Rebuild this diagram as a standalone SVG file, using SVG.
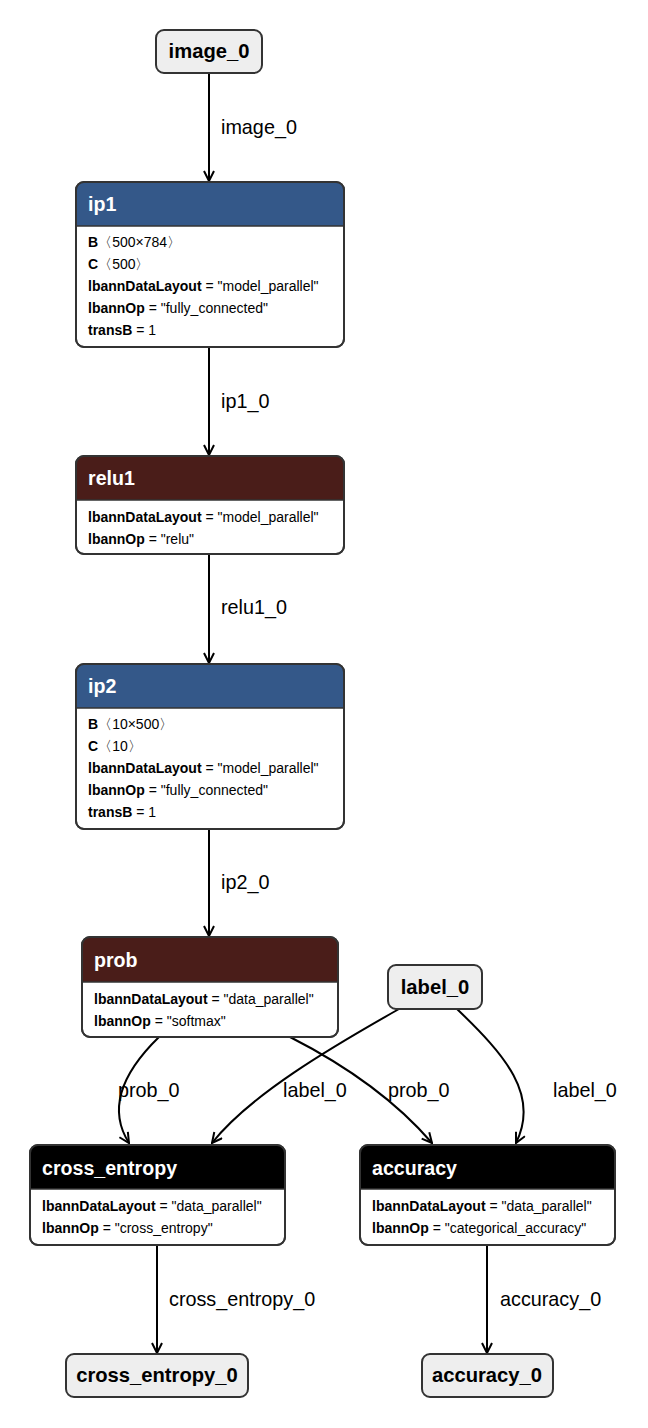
<svg xmlns="http://www.w3.org/2000/svg" width="648" height="1428" viewBox="0 0 648 1428">
<defs>
<style>
.box{fill:#ffffff;stroke:#333333;stroke-width:2}
.term{fill:#eeeeee;stroke:#333333;stroke-width:2}
.ttl{font-family:"Liberation Sans",Arial,sans-serif;font-size:19.6px;font-weight:bold;fill:#ffffff}
.tt{font-family:"Liberation Sans",Arial,sans-serif;font-size:20.2px;font-weight:bold;fill:#000000}
.attr{font-family:"Liberation Sans",Arial,sans-serif;font-size:14px;fill:#000000}
.attr tspan.k{font-weight:bold}
.el{font-family:"Liberation Sans",Arial,sans-serif;font-size:19.8px;fill:#000000}
.edge{fill:none;stroke:#000000;stroke-width:2}
.sep{stroke:#333333;stroke-width:1.5}
</style>
<marker id="arr" viewBox="0 0 12 12" refX="11" refY="6" markerWidth="12" markerHeight="12" markerUnits="userSpaceOnUse" orient="auto">
<path d="M1,1 L11,6 L1,11" fill="none" stroke="#000000" stroke-width="2"/>
</marker>
</defs>

<g id="connectors">
<path class="edge" d="M209,73 L209,181" marker-end="url(#arr)"/>
<text class="el" x="221" y="134">image_0</text>
<path class="edge" d="M209,347 L209,455" marker-end="url(#arr)"/>
<text class="el" x="221" y="408">ip1_0</text>
<path class="edge" d="M209,555 L209,663" marker-end="url(#arr)"/>
<text class="el" x="221" y="614">relu1_0</text>
<path class="edge" d="M209,829 L209,936" marker-end="url(#arr)"/>
<text class="el" x="221" y="889">ip2_0</text>
<path class="edge" d="M159,1037 C120,1075 108,1110 129,1143" marker-end="url(#arr)"/>
<text class="el" x="118" y="1097">prob_0</text>
<path class="edge" d="M399,1009 C330,1048 250,1095 212,1143" marker-end="url(#arr)"/>
<text class="el" x="283" y="1097">label_0</text>
<path class="edge" d="M290,1037 C345,1065 395,1100 432,1143" marker-end="url(#arr)"/>
<text class="el" x="388" y="1097">prob_0</text>
<path class="edge" d="M457,1009 C505,1055 540,1095 516,1143" marker-end="url(#arr)"/>
<text class="el" x="553" y="1097">label_0</text>
<path class="edge" d="M157,1245 L157,1353" marker-end="url(#arr)"/>
<text class="el" x="169" y="1306">cross_entropy_0</text>
<path class="edge" d="M487,1245 L487,1353" marker-end="url(#arr)"/>
<text class="el" x="500" y="1306">accuracy_0</text>
</g>

<g id="image_0">
<rect class="term" x="156" y="30" width="106" height="43" rx="8"/>
<text class="tt" x="209" y="58" text-anchor="middle">image_0</text>
</g>

<g id="ip1">
<rect class="box" x="76" y="182" width="268" height="165" rx="8"/>
<path d="M84,182 H336 A8,8 0 0 1 344,190 V226 H76 V190 A8,8 0 0 1 84,182 Z" fill="#345889"/>
<rect x="76" y="182" width="268" height="165" rx="8" fill="none" stroke="#333333" stroke-width="2"/>
<line class="sep" x1="76" y1="226" x2="344" y2="226"/>
<text class="ttl" x="88" y="211">ip1</text>
<text class="attr" x="88" y="247"><tspan class="k">B</tspan>〈500×784〉</text>
<text class="attr" x="88" y="269"><tspan class="k">C</tspan>〈500〉</text>
<text class="attr" x="88" y="291"><tspan class="k">lbannDataLayout</tspan> = "model_parallel"</text>
<text class="attr" x="88" y="313"><tspan class="k">lbannOp</tspan> = "fully_connected"</text>
<text class="attr" x="88" y="335"><tspan class="k">transB</tspan> = 1</text>
</g>

<g id="relu1">
<rect class="box" x="76" y="456" width="268" height="98" rx="8"/>
<path d="M84,456 H336 A8,8 0 0 1 344,464 V500 H76 V464 A8,8 0 0 1 84,456 Z" fill="#4a1d19"/>
<rect x="76" y="456" width="268" height="98" rx="8" fill="none" stroke="#333333" stroke-width="2"/>
<line class="sep" x1="76" y1="500" x2="344" y2="500"/>
<text class="ttl" x="88" y="485">relu1</text>
<text class="attr" x="88" y="522"><tspan class="k">lbannDataLayout</tspan> = "model_parallel"</text>
<text class="attr" x="88" y="544"><tspan class="k">lbannOp</tspan> = "relu"</text>
</g>

<g id="ip2">
<rect class="box" x="76" y="664" width="268" height="165" rx="8"/>
<path d="M84,664 H336 A8,8 0 0 1 344,672 V708 H76 V672 A8,8 0 0 1 84,664 Z" fill="#345889"/>
<rect x="76" y="664" width="268" height="165" rx="8" fill="none" stroke="#333333" stroke-width="2"/>
<line class="sep" x1="76" y1="708" x2="344" y2="708"/>
<text class="ttl" x="88" y="693">ip2</text>
<text class="attr" x="88" y="729"><tspan class="k">B</tspan>〈10×500〉</text>
<text class="attr" x="88" y="751"><tspan class="k">C</tspan>〈10〉</text>
<text class="attr" x="88" y="773"><tspan class="k">lbannDataLayout</tspan> = "model_parallel"</text>
<text class="attr" x="88" y="795"><tspan class="k">lbannOp</tspan> = "fully_connected"</text>
<text class="attr" x="88" y="817"><tspan class="k">transB</tspan> = 1</text>
</g>

<g id="prob">
<rect class="box" x="82" y="937" width="256" height="100" rx="8"/>
<path d="M90,937 H330 A8,8 0 0 1 338,945 V982 H82 V945 A8,8 0 0 1 90,937 Z" fill="#4a1d19"/>
<rect x="82" y="937" width="256" height="100" rx="8" fill="none" stroke="#333333" stroke-width="2"/>
<line class="sep" x1="82" y1="982" x2="338" y2="982"/>
<text class="ttl" x="94" y="967">prob</text>
<text class="attr" x="94" y="1004"><tspan class="k">lbannDataLayout</tspan> = "data_parallel"</text>
<text class="attr" x="94" y="1026"><tspan class="k">lbannOp</tspan> = "softmax"</text>
</g>

<g id="label_0">
<rect class="term" x="388" y="965" width="94" height="44" rx="8"/>
<text class="tt" x="435" y="994" text-anchor="middle">label_0</text>
</g>

<g id="cross_entropy">
<rect class="box" x="30" y="1145" width="255" height="100" rx="8"/>
<path d="M38,1145 H277 A8,8 0 0 1 285,1153 V1189 H30 V1153 A8,8 0 0 1 38,1145 Z" fill="#000000"/>
<rect x="30" y="1145" width="255" height="100" rx="8" fill="none" stroke="#333333" stroke-width="2"/>
<line class="sep" x1="30" y1="1189" x2="285" y2="1189"/>
<text class="ttl" x="42" y="1175">cross_entropy</text>
<text class="attr" x="42" y="1211"><tspan class="k">lbannDataLayout</tspan> = "data_parallel"</text>
<text class="attr" x="42" y="1233"><tspan class="k">lbannOp</tspan> = "cross_entropy"</text>
</g>

<g id="accuracy">
<rect class="box" x="360" y="1145" width="255" height="100" rx="8"/>
<path d="M368,1145 H607 A8,8 0 0 1 615,1153 V1189 H360 V1153 A8,8 0 0 1 368,1145 Z" fill="#000000"/>
<rect x="360" y="1145" width="255" height="100" rx="8" fill="none" stroke="#333333" stroke-width="2"/>
<line class="sep" x1="360" y1="1189" x2="615" y2="1189"/>
<text class="ttl" x="372" y="1175">accuracy</text>
<text class="attr" x="372" y="1211"><tspan class="k">lbannDataLayout</tspan> = "data_parallel"</text>
<text class="attr" x="372" y="1233"><tspan class="k">lbannOp</tspan> = "categorical_accuracy"</text>
</g>

<g id="cross_entropy_0">
<rect class="term" x="66" y="1354" width="182" height="43" rx="8"/>
<text class="tt" x="157" y="1382" text-anchor="middle">cross_entropy_0</text>
</g>

<g id="accuracy_0">
<rect class="term" x="422" y="1354" width="131" height="43" rx="8"/>
<text class="tt" x="487" y="1382" text-anchor="middle">accuracy_0</text>
</g>
</svg>
